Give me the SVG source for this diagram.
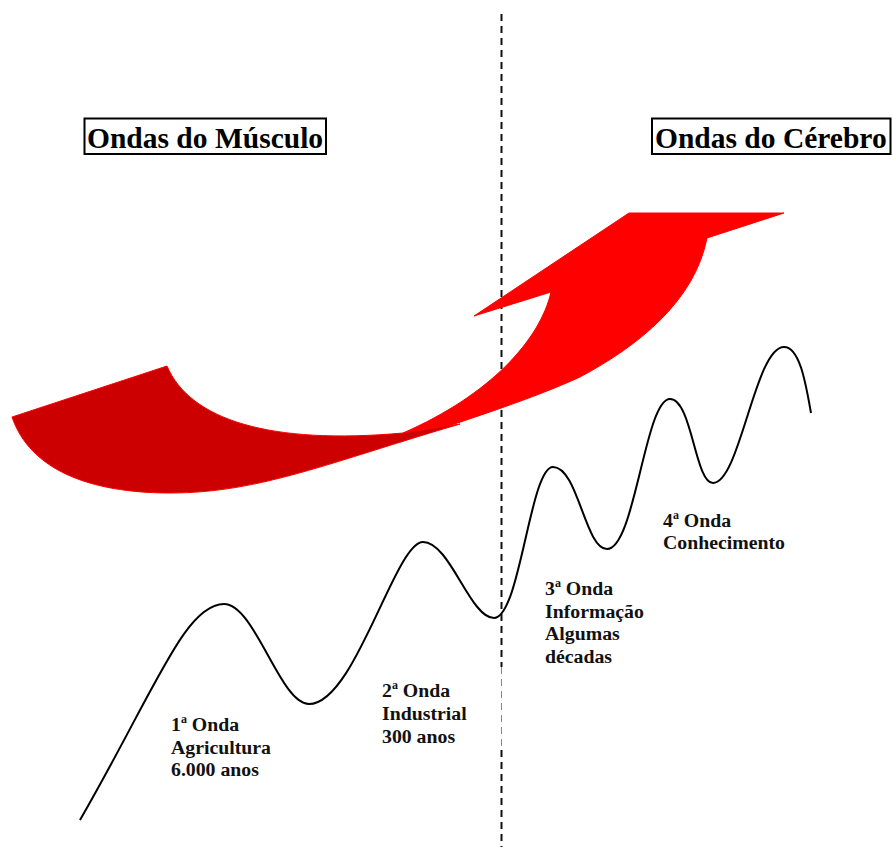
<svg xmlns="http://www.w3.org/2000/svg" width="893" height="847" viewBox="0 0 893 847">
<style>
.title{font-family:"Liberation Serif","Times New Roman",serif;font-weight:bold;font-size:29.5px;fill:#000}
.lbl{font-family:"Liberation Serif","Times New Roman",serif;font-weight:bold;font-size:19.8px;fill:#111}
.sup{font-size:12px}
.box{fill:#fff;stroke:#000;stroke-width:2}
.dash{stroke:#111;stroke-width:2;stroke-dasharray:7 5;fill:none}
.dashlight{stroke:#888;stroke-width:1;stroke-dasharray:7 5;fill:none}
.wave{fill:none;stroke:#000;stroke-width:2}
</style>
<rect width="893" height="847" fill="#fff"/>
<g id="divider">
<line class="dash" x1="501.5" y1="14" x2="501.5" y2="667"/>
<line class="dashlight" x1="501.5" y1="667" x2="501.5" y2="750"/>
<line class="dash" x1="501.5" y1="750" x2="501.5" y2="847"/>
</g>
<g id="arrow">
<path d="M400,442 C460,422 530,400 580,377 C640,345 695,300 707,238 L784,213 L629,213 L474,316 L551,292 C540,340 490,395 403,433 Z" fill="#FF0000" stroke="#FF0000" stroke-width="1" stroke-linejoin="round"/>
<path d="M12,417 L167,366 C190,420 270,445 403,433 L460,424 C330,462 260,493 170,493 C90,493 30,470 12,417 Z" fill="#CC0000" stroke="#FF0000" stroke-width="1" stroke-linejoin="round"/>
</g>
<g id="connectors">
<path class="wave" d="M80,820 C155,690 185,604 224,604 C255,604 280,704 309,704 C355,704 395,542 423,542 C450,542 470,618 494,618 C520,618 530,467 553,467 C578,467 585,549 607,549 C635,549 645,399 670,399 C692,399 695,483 713,483 C740,483 755,347 784,347 C800,347 806,385 811,413"/>
</g>
<g id="title-musculo">
<rect class="box" x="84.5" y="118.5" width="241.5" height="35.5"/>
<text class="title" x="87" y="148">Ondas do Músculo</text>
</g>
<g id="title-cerebro">
<rect class="box" x="652" y="118.5" width="238.5" height="35.5"/>
<text class="title" x="655" y="148">Ondas do Cérebro</text>
</g>
<g id="wave1">
<text class="lbl" x="171" y="731">1<tspan class="sup" dy="-8">a</tspan><tspan dy="8"> Onda</tspan></text>
<text class="lbl" x="171" y="753.5">Agricultura</text>
<text class="lbl" x="171" y="776">6.000 anos</text>
</g>
<g id="wave2">
<text class="lbl" x="382" y="697">2<tspan class="sup" dy="-8">a</tspan><tspan dy="8"> Onda</tspan></text>
<text class="lbl" x="382" y="720">Industrial</text>
<text class="lbl" x="382" y="743">300 anos</text>
</g>
<g id="wave3">
<text class="lbl" x="545" y="595">3<tspan class="sup" dy="-8">a</tspan><tspan dy="8"> Onda</tspan></text>
<text class="lbl" x="545" y="617.5">Informação</text>
<text class="lbl" x="545" y="640">Algumas</text>
<text class="lbl" x="545" y="662.5">décadas</text>
</g>
<g id="wave4">
<text class="lbl" x="663" y="527">4<tspan class="sup" dy="-8">a</tspan><tspan dy="8"> Onda</tspan></text>
<text class="lbl" x="663" y="549">Conhecimento</text>
</g>
</svg>
